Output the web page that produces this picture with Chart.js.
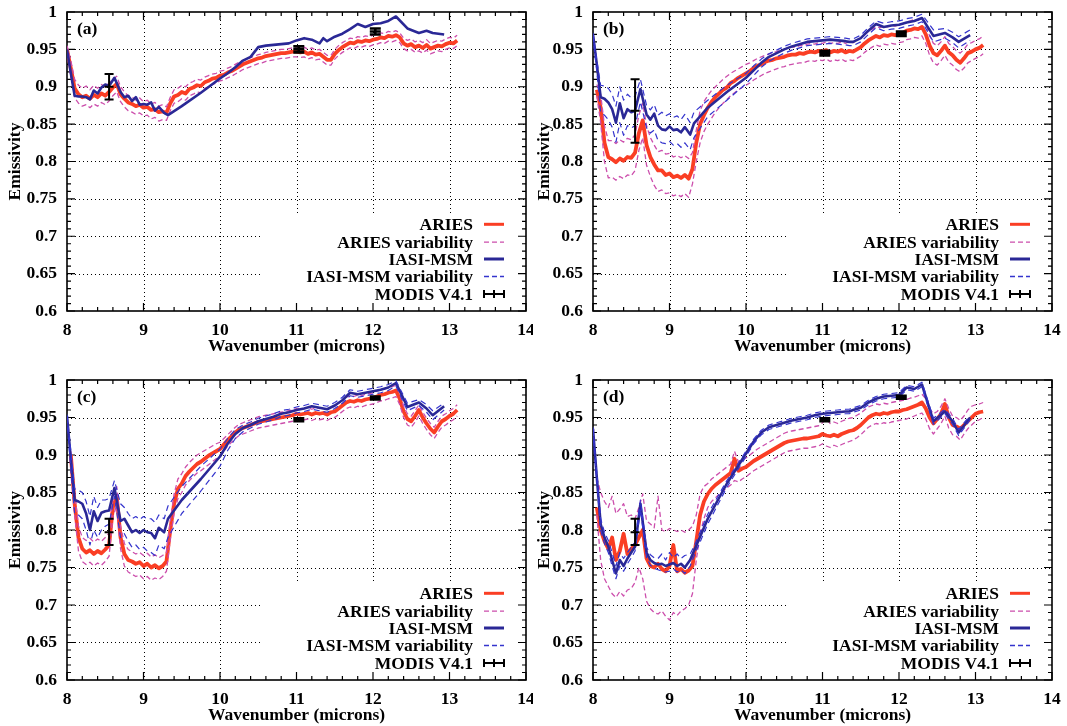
<!DOCTYPE html>
<html>
<head>
<meta charset="utf-8">
<script src="https://cdn.jsdelivr.net/npm/chart.js@4.4.1/dist/chart.umd.min.js"></script>
<style>
  body { margin: 0; background: #fff; overflow: hidden; }
  canvas { position: absolute; }
</style>
</head>
<body>
<canvas id="pa" width="533" height="363" style="left:0;top:0"></canvas>
<canvas id="pb" width="534" height="363" style="left:533px;top:0"></canvas>
<canvas id="pc" width="533" height="358" style="left:0;top:368px"></canvas>
<canvas id="pd" width="534" height="358" style="left:533px;top:368px"></canvas>
<script>
// wavelength grids (microns)
const waveAries = [
  8.00,8.05,8.10,8.15,8.20,8.25,8.30,8.35,8.40,8.45,
  8.50,8.55,8.60,8.65,8.70,8.75,8.80,8.85,8.90,8.95,
  9.00,9.05,9.10,9.15,9.20,9.25,9.30,9.35,9.40,9.45,
  9.50,9.55,9.60,9.65,9.70,9.75,9.80,9.85,9.90,9.95,
  10.00,10.05,10.10,10.15,10.20,10.25,10.30,10.35,10.40,10.45,
  10.50,10.55,10.60,10.65,10.70,10.75,10.80,10.85,10.90,10.95,
  11.00,11.05,11.10,11.15,11.20,11.25,11.30,11.35,11.40,11.45,
  11.50,11.55,11.60,11.65,11.70,11.75,11.80,11.85,11.90,11.95,
  12.00,12.05,12.10,12.15,12.20,12.25,12.30,12.35,12.40,12.45,
  12.50,12.55,12.60,12.65,12.70,12.75,12.80,12.85,12.90,12.95,
  13.00,13.05,13.10];
const waveIasi = [
  8.00,8.05,8.10,8.15,8.20,8.25,8.30,8.35,8.40,8.45,
  8.50,8.55,8.62,8.70,8.75,8.80,8.85,8.90,8.95,9.00,
  9.05,9.10,9.15,9.20,9.27,9.32,9.50,9.75,10.00,10.10,
  10.20,10.30,10.40,10.50,10.60,10.70,10.80,10.90,11.00,11.10,
  11.20,11.30,11.35,11.40,11.50,11.60,11.70,11.80,11.90,12.00,
  12.10,12.20,12.30,12.45,12.60,12.70,12.78,12.93];
const modisWave = [8.55, 11.03, 12.03];

// (a)
const aAries = [
  0.950,0.925,0.898,0.890,0.886,0.888,0.884,0.889,0.886,0.891,
  0.888,0.893,0.899,0.904,0.890,0.884,0.879,0.877,0.874,0.876,
  0.872,0.873,0.869,0.870,0.866,0.867,0.865,0.878,0.887,0.889,
  0.893,0.891,0.897,0.899,0.902,0.901,0.906,0.908,0.911,0.912,
  0.915,0.916,0.919,0.921,0.924,0.927,0.930,0.932,0.934,0.936,
  0.938,0.939,0.941,0.942,0.943,0.944,0.945,0.945,0.946,0.947,
  0.947,0.946,0.947,0.944,0.946,0.943,0.944,0.940,0.936,0.936,
  0.944,0.949,0.953,0.956,0.959,0.958,0.961,0.960,0.962,0.961,
  0.963,0.964,0.966,0.965,0.968,0.967,0.969,0.966,0.958,0.955,
  0.957,0.953,0.955,0.952,0.956,0.951,0.953,0.955,0.954,0.957,
  0.959,0.958,0.962];
const aAriesHi = [
  0.955,0.935,0.910,0.902,0.898,0.901,0.896,0.902,0.898,0.903,
  0.900,0.905,0.910,0.914,0.900,0.893,0.888,0.886,0.882,0.885,
  0.880,0.882,0.877,0.879,0.874,0.876,0.873,0.886,0.896,0.898,
  0.902,0.900,0.905,0.907,0.910,0.909,0.913,0.915,0.917,0.918,
  0.921,0.922,0.925,0.927,0.930,0.933,0.935,0.937,0.939,0.941,
  0.943,0.944,0.946,0.947,0.948,0.949,0.950,0.950,0.951,0.952,
  0.952,0.951,0.953,0.950,0.952,0.949,0.950,0.946,0.942,0.942,
  0.950,0.955,0.959,0.962,0.965,0.964,0.967,0.966,0.968,0.967,
  0.969,0.970,0.972,0.971,0.974,0.973,0.975,0.972,0.965,0.962,
  0.964,0.960,0.962,0.959,0.963,0.958,0.960,0.962,0.961,0.964,
  0.966,0.965,0.969];
const aAriesLo = [
  0.945,0.915,0.885,0.878,0.874,0.876,0.872,0.877,0.874,0.879,
  0.876,0.881,0.888,0.893,0.880,0.873,0.868,0.866,0.863,0.865,
  0.861,0.862,0.857,0.859,0.854,0.856,0.855,0.868,0.878,0.880,
  0.884,0.882,0.888,0.890,0.893,0.892,0.898,0.900,0.903,0.905,
  0.908,0.909,0.912,0.914,0.917,0.920,0.923,0.925,0.927,0.929,
  0.931,0.932,0.934,0.935,0.936,0.937,0.938,0.938,0.939,0.940,
  0.940,0.939,0.940,0.937,0.939,0.936,0.937,0.933,0.929,0.929,
  0.937,0.942,0.946,0.949,0.952,0.951,0.954,0.953,0.955,0.954,
  0.956,0.957,0.959,0.958,0.961,0.960,0.962,0.959,0.951,0.948,
  0.950,0.946,0.948,0.945,0.949,0.944,0.946,0.948,0.947,0.950,
  0.952,0.951,0.955];
const aIasi = [
  0.950,0.918,0.888,0.887,0.887,0.886,0.883,0.895,0.891,0.899,
  0.903,0.901,0.912,0.893,0.886,0.888,0.881,0.886,0.876,0.877,
  0.876,0.879,0.868,0.873,0.865,0.862,0.874,0.892,0.911,0.918,
  0.926,0.935,0.940,0.953,0.955,0.956,0.957,0.958,0.962,0.965,
  0.963,0.958,0.965,0.961,0.967,0.971,0.977,0.984,0.980,0.984,
  0.985,0.988,0.994,0.978,0.972,0.975,0.972,0.970];
const aIasiHi = [];
const aIasiLo = [];
const aModis = [0.900, 0.950, 0.974];
const aModisLo = [0.883, 0.946, 0.970];
const aModisHi = [0.917, 0.954, 0.978];

// (b)
const bAries = [
  null,0.896,0.872,0.825,0.806,0.803,0.799,0.804,0.801,0.806,
  0.805,0.812,0.838,0.855,0.822,0.806,0.796,0.788,0.788,0.782,
  0.784,0.779,0.781,0.778,0.782,0.777,0.790,0.825,0.850,0.862,
  0.872,0.880,0.886,0.891,0.896,0.899,0.905,0.908,0.912,0.915,
  0.918,0.921,0.925,0.928,0.930,0.933,0.935,0.936,0.938,0.939,
  0.940,0.942,0.943,0.943,0.945,0.944,0.946,0.947,0.946,0.948,
  0.947,0.949,0.946,0.948,0.947,0.949,0.946,0.948,0.947,0.950,
  0.953,0.958,0.962,0.965,0.968,0.966,0.969,0.968,0.970,0.969,
  0.971,0.972,0.975,0.976,0.978,0.977,0.980,0.970,0.955,0.945,
  0.942,0.948,0.955,0.946,0.942,0.936,0.932,0.938,0.945,0.947,
  0.950,0.952,0.956];
const bAriesHi = [
  null,0.903,0.890,0.848,0.828,0.828,0.824,0.829,0.826,0.831,
  0.829,0.836,0.862,0.878,0.848,0.832,0.822,0.813,0.815,0.810,
  0.811,0.806,0.808,0.805,0.808,0.804,0.812,0.842,0.868,0.880,
  0.888,0.895,0.900,0.905,0.910,0.914,0.918,0.921,0.924,0.927,
  0.930,0.932,0.935,0.938,0.940,0.942,0.944,0.946,0.947,0.949,
  0.950,0.952,0.953,0.953,0.955,0.955,0.957,0.958,0.957,0.959,
  0.958,0.960,0.958,0.959,0.958,0.960,0.958,0.960,0.959,0.962,
  0.965,0.970,0.974,0.977,0.980,0.979,0.981,0.980,0.982,0.981,
  0.983,0.984,0.987,0.988,0.990,0.989,0.992,0.984,0.968,0.958,
  0.955,0.960,0.967,0.958,0.954,0.948,0.945,0.950,0.957,0.959,
  0.962,0.964,0.968];
const bAriesLo = [
  null,0.888,0.852,0.800,0.778,0.779,0.775,0.780,0.777,0.782,
  0.781,0.788,0.815,0.832,0.795,0.780,0.768,0.760,0.762,0.757,
  0.758,0.754,0.756,0.753,0.757,0.752,0.770,0.800,0.825,0.840,
  0.850,0.858,0.866,0.872,0.878,0.883,0.888,0.892,0.896,0.899,
  0.902,0.905,0.909,0.912,0.915,0.918,0.920,0.922,0.924,0.926,
  0.927,0.929,0.930,0.931,0.932,0.932,0.934,0.935,0.934,0.936,
  0.935,0.937,0.934,0.936,0.935,0.937,0.934,0.936,0.935,0.938,
  0.941,0.946,0.950,0.953,0.956,0.954,0.957,0.956,0.958,0.957,
  0.959,0.960,0.963,0.964,0.966,0.965,0.968,0.958,0.942,0.932,
  0.929,0.935,0.942,0.933,0.929,0.923,0.920,0.925,0.932,0.935,
  0.938,0.940,0.944];
const bIasi = [
  0.970,0.930,0.886,0.884,0.879,0.870,0.852,0.878,0.858,0.870,
  0.866,0.868,0.897,0.863,0.856,0.864,0.848,0.843,0.842,0.847,
  0.842,0.843,0.839,0.846,0.836,0.851,0.872,0.893,0.912,0.922,
  0.932,0.940,0.945,0.950,0.954,0.957,0.960,0.961,0.962,0.963,
  0.962,0.961,0.960,0.960,0.965,0.975,0.984,0.980,0.982,0.983,
  0.986,0.988,0.992,0.968,0.972,0.966,0.960,0.969];
const bIasiHi = [
  0.972,0.935,0.902,0.901,0.898,0.890,0.874,0.900,0.882,0.890,
  0.885,0.887,0.910,0.875,0.869,0.876,0.862,0.866,0.861,0.864,
  0.859,0.861,0.856,0.863,0.852,0.866,0.882,0.902,0.918,0.928,
  0.937,0.944,0.949,0.954,0.958,0.961,0.964,0.965,0.966,0.967,
  0.966,0.965,0.964,0.964,0.969,0.979,0.988,0.985,0.987,0.988,
  0.991,0.993,0.997,0.976,0.978,0.973,0.967,0.976];
const bIasiLo = [
  0.968,0.920,0.866,0.862,0.856,0.846,0.826,0.852,0.835,0.848,
  0.845,0.848,0.880,0.845,0.838,0.842,0.828,0.825,0.824,0.827,
  0.822,0.824,0.819,0.825,0.816,0.832,0.860,0.882,0.904,0.915,
  0.926,0.934,0.940,0.945,0.949,0.952,0.955,0.956,0.957,0.958,
  0.957,0.956,0.955,0.955,0.960,0.970,0.979,0.975,0.977,0.978,
  0.981,0.983,0.987,0.960,0.965,0.959,0.952,0.962];
const bModis = [0.868, 0.945, 0.971];
const bModisLo = [0.825, 0.942, 0.968];
const bModisHi = [0.910, 0.948, 0.974];

// (c)
const cAries = [
  null,0.900,0.835,0.790,0.775,0.770,0.773,0.768,0.772,0.769,
  0.774,0.780,0.830,0.845,0.790,0.768,0.760,0.758,0.755,0.757,
  0.752,0.755,0.750,0.753,0.749,0.752,0.758,0.800,0.835,0.855,
  0.862,0.872,0.878,0.883,0.888,0.891,0.895,0.899,0.902,0.905,
  0.908,0.914,0.920,0.925,0.930,0.934,0.936,0.938,0.940,0.942,
  0.944,0.945,0.946,0.947,0.948,0.949,0.950,0.951,0.952,0.953,
  0.955,0.954,0.955,0.956,0.954,0.956,0.955,0.956,0.954,0.957,
  0.958,0.962,0.966,0.970,0.972,0.971,0.973,0.972,0.974,0.975,
  0.976,0.978,0.980,0.981,0.983,0.984,0.986,0.975,0.958,0.948,
  0.945,0.952,0.960,0.950,0.942,0.935,0.930,0.938,0.945,0.948,
  0.952,0.955,0.960];
const cAriesHi = [
  null,0.905,0.850,0.805,0.790,0.786,0.789,0.784,0.788,0.785,
  0.790,0.796,0.842,0.858,0.805,0.782,0.774,0.771,0.768,0.770,
  0.766,0.769,0.764,0.767,0.763,0.766,0.770,0.812,0.848,0.868,
  0.875,0.884,0.890,0.895,0.900,0.903,0.906,0.909,0.912,0.915,
  0.917,0.922,0.927,0.932,0.937,0.941,0.943,0.945,0.947,0.949,
  0.951,0.952,0.953,0.954,0.955,0.956,0.957,0.958,0.959,0.960,
  0.962,0.961,0.962,0.963,0.961,0.963,0.962,0.963,0.961,0.964,
  0.965,0.969,0.973,0.977,0.979,0.978,0.980,0.979,0.981,0.982,
  0.983,0.985,0.987,0.988,0.990,0.991,0.993,0.982,0.965,0.955,
  0.952,0.959,0.967,0.957,0.949,0.942,0.937,0.945,0.952,0.955,
  0.959,0.962,0.967];
const cAriesLo = [
  null,0.895,0.820,0.772,0.758,0.754,0.757,0.752,0.756,0.753,
  0.758,0.765,0.818,0.832,0.775,0.752,0.744,0.741,0.738,0.740,
  0.735,0.738,0.733,0.736,0.734,0.738,0.745,0.788,0.822,0.842,
  0.850,0.860,0.866,0.871,0.876,0.879,0.883,0.887,0.891,0.895,
  0.899,0.905,0.912,0.917,0.922,0.926,0.928,0.930,0.932,0.934,
  0.936,0.937,0.938,0.939,0.940,0.941,0.942,0.943,0.944,0.945,
  0.947,0.946,0.947,0.948,0.946,0.948,0.947,0.948,0.946,0.949,
  0.950,0.954,0.958,0.962,0.964,0.963,0.965,0.964,0.966,0.967,
  0.968,0.970,0.972,0.973,0.975,0.976,0.978,0.967,0.950,0.940,
  0.937,0.944,0.952,0.942,0.934,0.927,0.922,0.930,0.937,0.940,
  0.944,0.947,0.952];
const cIasi = [
  0.952,0.895,0.840,0.838,0.835,0.822,0.800,0.825,0.812,0.823,
  0.825,0.826,0.856,0.812,0.815,0.806,0.797,0.800,0.796,0.800,
  0.797,0.796,0.789,0.803,0.797,0.815,0.840,0.868,0.898,0.915,
  0.928,0.936,0.940,0.945,0.948,0.951,0.955,0.957,0.960,0.962,
  0.965,0.963,0.962,0.961,0.966,0.973,0.983,0.981,0.983,0.985,
  0.987,0.990,0.996,0.964,0.970,0.962,0.953,0.965];
const cIasiHi = [
  0.954,0.905,0.855,0.853,0.850,0.838,0.818,0.845,0.830,0.840,
  0.840,0.842,0.866,0.835,0.830,0.822,0.815,0.818,0.814,0.818,
  0.815,0.815,0.810,0.820,0.815,0.832,0.858,0.885,0.908,0.922,
  0.934,0.940,0.944,0.949,0.952,0.955,0.959,0.961,0.964,0.966,
  0.969,0.967,0.966,0.965,0.970,0.977,0.987,0.985,0.987,0.989,
  0.991,0.994,0.999,0.969,0.974,0.967,0.959,0.969];
const cIasiLo = [
  0.950,0.880,0.822,0.820,0.815,0.800,0.780,0.800,0.790,0.800,
  0.805,0.808,0.845,0.790,0.795,0.785,0.777,0.780,0.774,0.777,
  0.772,0.770,0.766,0.780,0.775,0.790,0.822,0.852,0.885,0.906,
  0.922,0.931,0.936,0.941,0.944,0.947,0.951,0.953,0.956,0.958,
  0.961,0.959,0.958,0.957,0.962,0.969,0.979,0.977,0.979,0.981,
  0.983,0.986,0.992,0.959,0.966,0.957,0.947,0.960];
const cModis = [0.797, 0.947, 0.976];
const cModisLo = [0.780, 0.945, 0.974];
const cModisHi = [0.815, 0.949, 0.978];

// (d)
const dAries = [
  null,0.830,0.800,0.785,0.775,0.790,0.760,0.772,0.795,0.768,
  0.775,0.780,0.790,0.800,0.762,0.752,0.750,0.755,0.748,0.745,
  0.752,0.780,0.745,0.748,0.743,0.746,0.752,0.785,0.820,0.838,
  0.848,0.855,0.860,0.864,0.868,0.872,0.876,0.895,0.879,0.882,
  0.884,0.888,0.892,0.895,0.898,0.901,0.904,0.907,0.910,0.913,
  0.916,0.918,0.919,0.920,0.921,0.922,0.922,0.923,0.924,0.925,
  0.928,0.926,0.925,0.927,0.925,0.928,0.930,0.932,0.933,0.936,
  0.940,0.945,0.950,0.953,0.955,0.954,0.956,0.955,0.957,0.958,
  0.958,0.960,0.961,0.963,0.965,0.967,0.970,0.962,0.950,0.942,
  0.948,0.955,0.968,0.950,0.940,0.938,0.935,0.940,0.945,0.950,
  0.955,0.957,0.958];
const dAriesHi = [
  null,0.870,0.850,0.838,0.830,0.845,0.822,0.828,0.835,0.818,
  0.820,0.815,0.830,0.848,0.812,0.808,0.803,0.845,0.800,0.798,
  0.802,0.800,0.798,0.800,0.797,0.800,0.805,0.820,0.848,0.858,
  0.862,0.868,0.872,0.876,0.880,0.884,0.888,0.905,0.891,0.894,
  0.896,0.900,0.904,0.908,0.911,0.914,0.917,0.920,0.923,0.926,
  0.929,0.931,0.932,0.933,0.934,0.935,0.936,0.937,0.938,0.939,
  0.943,0.948,0.942,0.944,0.942,0.945,0.947,0.949,0.950,0.953,
  0.956,0.960,0.964,0.966,0.968,0.967,0.969,0.968,0.970,0.971,
  0.972,0.973,0.974,0.976,0.977,0.979,0.981,0.975,0.962,0.955,
  0.958,0.965,0.975,0.962,0.952,0.950,0.946,0.952,0.960,0.965,
  0.967,0.968,0.970];
const dAriesLo = [
  null,0.820,0.760,0.735,0.725,0.715,0.710,0.718,0.712,0.720,
  0.722,0.730,0.750,0.735,0.705,0.695,0.690,0.688,0.692,0.685,
  0.680,0.690,0.686,0.692,0.695,0.700,0.715,0.760,0.795,0.815,
  0.830,0.838,0.843,0.848,0.852,0.856,0.860,0.866,0.864,0.868,
  0.871,0.875,0.879,0.882,0.885,0.888,0.891,0.894,0.897,0.900,
  0.903,0.905,0.906,0.907,0.908,0.909,0.909,0.910,0.911,0.912,
  0.915,0.912,0.910,0.913,0.911,0.914,0.916,0.918,0.920,0.923,
  0.927,0.932,0.937,0.940,0.942,0.941,0.943,0.942,0.944,0.945,
  0.946,0.947,0.948,0.950,0.952,0.954,0.956,0.948,0.935,0.928,
  0.935,0.942,0.952,0.936,0.927,0.925,0.920,0.928,0.935,0.940,
  0.945,0.947,0.950];
const dIasi = [
  0.935,0.870,0.808,0.790,0.778,0.760,0.742,0.760,0.752,0.762,
  0.770,0.778,0.835,0.770,0.760,0.756,0.754,0.755,0.752,0.754,
  0.756,0.752,0.755,0.750,0.760,0.772,0.815,0.862,0.902,0.918,
  0.930,0.937,0.940,0.943,0.946,0.948,0.950,0.953,0.955,0.956,
  0.957,0.958,0.958,0.960,0.963,0.970,0.975,0.978,0.979,0.980,
  0.990,0.988,0.994,0.945,0.958,0.945,0.930,0.950];
const dIasiHi = [
  0.937,0.875,0.815,0.797,0.786,0.770,0.752,0.770,0.762,0.770,
  0.777,0.784,0.840,0.777,0.767,0.763,0.762,0.768,0.760,0.770,
  0.763,0.768,0.762,0.766,0.768,0.778,0.821,0.866,0.905,0.921,
  0.933,0.940,0.943,0.946,0.949,0.951,0.953,0.956,0.958,0.959,
  0.960,0.961,0.961,0.963,0.966,0.973,0.978,0.981,0.982,0.983,
  0.993,0.991,0.997,0.949,0.961,0.949,0.934,0.953];
const dIasiLo = [
  0.933,0.865,0.800,0.782,0.770,0.752,0.735,0.752,0.745,0.755,
  0.763,0.772,0.828,0.763,0.753,0.749,0.747,0.745,0.744,0.745,
  0.748,0.744,0.747,0.742,0.752,0.765,0.808,0.857,0.898,0.915,
  0.927,0.934,0.937,0.940,0.943,0.945,0.947,0.950,0.952,0.953,
  0.954,0.955,0.955,0.957,0.960,0.967,0.972,0.975,0.976,0.977,
  0.987,0.985,0.991,0.941,0.955,0.941,0.926,0.947];
const dModis = [0.797, 0.947, 0.977];
const dModisLo = [0.780, 0.945, 0.975];
const dModisHi = [0.815, 0.949, 0.979];

const FONT = "'Liberation Serif', 'Times New Roman', serif";
const RED = 'rgb(250,62,36)';
const MAG = 'rgb(204,78,172)';
const BLUE = 'rgb(42,40,150)';
const BLUE2 = 'rgb(52,52,205)';
const bold17 = { family: FONT, size: 17.5, weight: 'bold' };

// gnuplot-like frame: dotted grid, inward ticks, box; grid cut out behind the key
const frame = {
  id: 'frame',
  beforeDatasetsDraw(chart) {
    const { ctx, chartArea: a, scales: { x, y } } = chart;
    const kx = x.getPixelForValue(10.55), ky = y.getPixelForValue(0.729);
    ctx.save();
    ctx.strokeStyle = '#000';
    ctx.lineWidth = 1;
    ctx.setLineDash([1, 3]);
    for (let v = 9; v <= 13; v++) {
      const px = Math.round(x.getPixelForValue(v)) + 0.5;
      ctx.beginPath();
      ctx.moveTo(px, a.top);
      ctx.lineTo(px, v > 10.55 ? ky : a.bottom);
      ctx.stroke();
    }
    for (let k = 1; k < 8; k++) {
      const v = 0.6 + k * 0.05;
      const py = Math.round(y.getPixelForValue(v)) + 0.5;
      ctx.beginPath();
      ctx.moveTo(a.left, py);
      ctx.lineTo(v < 0.729 ? kx : a.right, py);
      ctx.stroke();
    }
    ctx.setLineDash([]);
    ctx.lineWidth = 1.2;
    ctx.beginPath();
    for (let k = 0; k <= 30; k++) {
      const px = x.getPixelForValue(8 + k * 0.2), len = k % 5 ? 4 : 8;
      ctx.moveTo(px, a.top); ctx.lineTo(px, a.top + len);
      ctx.moveTo(px, a.bottom); ctx.lineTo(px, a.bottom - len);
    }
    for (let k = 0; k <= 40; k++) {
      const py = y.getPixelForValue(0.6 + k * 0.01), len = k % 5 ? 4 : 8;
      ctx.moveTo(a.left, py); ctx.lineTo(a.left + len, py);
      ctx.moveTo(a.right, py); ctx.lineTo(a.right - len, py);
    }
    ctx.stroke();
    ctx.lineWidth = 1.6;
    ctx.strokeRect(a.left, a.top, a.right - a.left, a.bottom - a.top);
    ctx.restore();
  }
};

const keyRows = [
  ['ARIES', RED, 3, []],
  ['ARIES variability', MAG, 1.3, [5, 3]],
  ['IASI-MSM', BLUE, 3, []],
  ['IASI-MSM variability', BLUE2, 1.3, [5, 3]],
  ['MODIS V4.1', '#000', 2, null]
];
const keyOffsets = [86.7, 68.9, 52, 34.5, 17];

const extras = {
  id: 'extras',
  afterDatasetsDraw(chart, args, opts) {
    const { ctx, chartArea: a, scales: { x, y } } = chart;
    ctx.save();
    // MODIS error bars
    ctx.strokeStyle = '#000';
    opts.modis.forEach((v, i) => {
      const px = x.getPixelForValue(modisWave[i]);
      const yl = y.getPixelForValue(opts.lo[i]);
      const yh = y.getPixelForValue(opts.hi[i]);
      const yc = y.getPixelForValue(v);
      const w = i ? 5.5 : 4.5;
      ctx.lineWidth = i ? 2.6 : 2;
      ctx.beginPath();
      ctx.moveTo(px, yl); ctx.lineTo(px, yh);
      for (const q of [yl, yh, yc]) { ctx.moveTo(px - w, q); ctx.lineTo(px + w, q); }
      ctx.stroke();
    });
    // key
    ctx.font = `bold 17.5px ${FONT}`;
    ctx.fillStyle = '#000';
    ctx.textAlign = 'right';
    ctx.textBaseline = 'middle';
    keyRows.forEach((r, i) => {
      const ty = a.bottom - keyOffsets[i];
      ctx.fillText(r[0], a.right - 53, ty + 1);
      const x0 = a.right - 42, x1 = a.right - 22;
      ctx.strokeStyle = r[1];
      ctx.lineWidth = r[2];
      ctx.setLineDash(r[3] || []);
      ctx.beginPath();
      ctx.moveTo(x0, ty); ctx.lineTo(x1, ty);
      if (!r[3]) {
        for (const q of [x0, (x0 + x1) / 2, x1]) { ctx.moveTo(q, ty - 4); ctx.lineTo(q, ty + 4); }
      }
      ctx.stroke();
    });
    ctx.setLineDash([]);
    ctx.textAlign = 'left';
    ctx.fillText(opts.label, a.left + 10, a.top + 17);
    ctx.restore();
  }
};

function series(xs, ys, color, width, dash, order) {
  return {
    data: ys.map((v, i) => ({ x: xs[i], y: v })),
    borderColor: color, borderWidth: width, borderDash: dash,
    borderJoinStyle: 'round', pointRadius: 0, fill: false, tension: 0, order
  };
}

function makePanel(id, label, pad, yWidth, d) {
  new Chart(document.getElementById(id), {
    type: 'line',
    data: {
      datasets: [
        series(waveAries, d.aries, RED, 3.8, [], 5),
        series(waveAries, d.ariesHi, MAG, 1.3, [5, 3], 4),
        series(waveAries, d.ariesLo, MAG, 1.3, [5, 3], 4),
        series(waveIasi, d.iasi, BLUE, 2.6, [], 3),
        series(waveIasi, d.iasiHi, BLUE2, 1.2, [6, 4], 2),
        series(waveIasi, d.iasiLo, BLUE2, 1.2, [6, 4], 2)
      ]
    },
    options: {
      responsive: false,
      animation: false,
      devicePixelRatio: 1,
      layout: { padding: pad },
      plugins: {
        legend: { display: false },
        tooltip: { enabled: false },
        extras: { label, modis: d.modis, lo: d.modisLo, hi: d.modisHi }
      },
      scales: {
        x: {
          type: 'linear', min: 8, max: 14,
          grid: { display: false, drawTicks: false },
          border: { display: false },
          ticks: { stepSize: 1, padding: 9, color: '#000', font: bold17, maxRotation: 0 },
          title: { display: true, text: 'Wavenumber (microns)', color: '#000', font: bold17, padding: 0 },
          afterFit: s => { s.height = 46; s.paddingLeft = 0; s.paddingRight = 0; }
        },
        y: {
          type: 'linear', min: 0.6, max: 1,
          grid: { display: false, drawTicks: false },
          border: { display: false },
          ticks: { stepSize: 0.05, padding: 10, color: '#000', font: bold17, callback: v => String(+v.toFixed(2)) },
          title: { display: true, text: 'Emissivity', color: '#000', font: bold17, padding: 0 },
          afterFit: s => { s.width = yWidth; s.paddingTop = 0; s.paddingBottom = 0; }
        }
      }
    },
    plugins: [frame, extras]
  });
}

makePanel('pa', '(a)', { left: 5, top: 12, right: 7, bottom: 6 }, 62, {
  aries: aAries, ariesHi: aAriesHi, ariesLo: aAriesLo,
  iasi: aIasi, iasiHi: aIasiHi, iasiLo: aIasiLo,
  modis: aModis, modisLo: aModisLo, modisHi: aModisHi });
makePanel('pb', '(b)', { left: 1, top: 12, right: 15, bottom: 6 }, 59, {
  aries: bAries, ariesHi: bAriesHi, ariesLo: bAriesLo,
  iasi: bIasi, iasiHi: bIasiHi, iasiLo: bIasiLo,
  modis: bModis, modisLo: bModisLo, modisHi: bModisHi });
makePanel('pc', '(c)', { left: 5, top: 12, right: 7, bottom: 0 }, 62, {
  aries: cAries, ariesHi: cAriesHi, ariesLo: cAriesLo,
  iasi: cIasi, iasiHi: cIasiHi, iasiLo: cIasiLo,
  modis: cModis, modisLo: cModisLo, modisHi: cModisHi });
makePanel('pd', '(d)', { left: 1, top: 12, right: 15, bottom: 0 }, 59, {
  aries: dAries, ariesHi: dAriesHi, ariesLo: dAriesLo,
  iasi: dIasi, iasiHi: dIasiHi, iasiLo: dIasiLo,
  modis: dModis, modisLo: dModisLo, modisHi: dModisHi });
</script>
</body>
</html>
